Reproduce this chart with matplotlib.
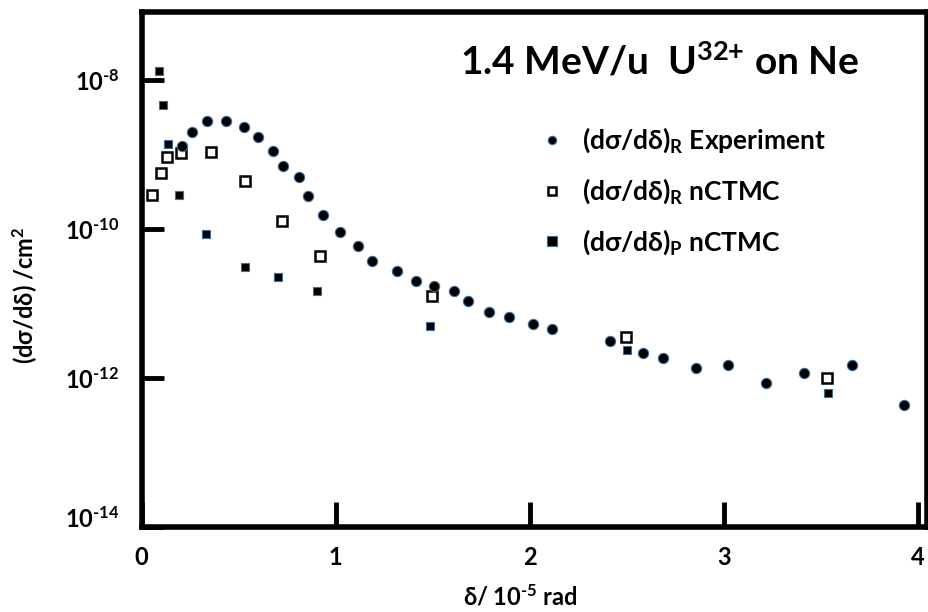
import numpy as np
import matplotlib
matplotlib.use('Agg')
import matplotlib.pyplot as plt
from matplotlib.lines import Line2D
from matplotlib.transforms import ScaledTranslation

plt.rcParams['font.family'] = ['Lato', 'DejaVu Sans']
plt.rcParams['font.weight'] = 'bold'
plt.rcParams['mathtext.fontset'] = 'custom'
plt.rcParams['mathtext.rm'] = 'Lato:bold'
plt.rcParams['mathtext.bf'] = 'Lato:bold'
plt.rcParams['mathtext.it'] = 'Lato:bold'

# experiment, (dsigma/ddelta)_R
exp_x = [0.206, 0.258, 0.338, 0.433, 0.527, 0.601, 0.675, 0.727, 0.809, 0.859,
         0.935, 1.022, 1.113, 1.189, 1.314, 1.412, 1.508, 1.611, 1.684, 1.792,
         1.895, 2.019, 2.116, 2.414, 2.582, 2.686, 2.857, 3.021, 3.218, 3.414,
         3.660, 3.929]
exp_y = [1.28e-9, 1.97e-9, 2.76e-9, 2.76e-9, 2.32e-9, 1.71e-9, 1.12e-9, 6.88e-10,
         4.96e-10, 2.73e-10, 1.52e-10, 9.1e-11, 5.82e-11, 3.66e-11, 2.75e-11,
         1.98e-11, 1.69e-11, 1.45e-11, 1.07e-11, 7.69e-12, 6.59e-12, 5.31e-12,
         4.55e-12, 3.10e-12, 2.17e-12, 1.82e-12, 1.34e-12, 1.47e-12, 8.59e-13,
         1.16e-12, 1.47e-12, 4.27e-13]

# nCTMC, recoil
ctmc_r_x = [0.052, 0.099, 0.132, 0.201, 0.356, 0.532, 0.725, 0.919, 1.498, 2.495, 3.534]
ctmc_r_y = [2.87e-10, 5.61e-10, 9.20e-10, 1.04e-9, 1.06e-9, 4.33e-10, 1.29e-10,
            4.37e-11, 1.24e-11, 3.52e-12, 1.00e-12]

# nCTMC, projectile
ctmc_p_x = [0.091, 0.108, 0.134, 0.192, 0.331, 0.532, 0.701, 0.905, 1.486, 2.500, 3.539]
ctmc_p_y = [1.32e-8, 4.62e-9, 1.39e-9, 2.87e-10, 8.55e-11, 3.05e-11, 2.27e-11,
            1.48e-11, 4.93e-12, 2.35e-12, 6.31e-13]

x_ticks = [0, 1, 2, 3, 4]
y_ticks = [1e-14, 1e-12, 1e-10, 1e-8]
y_ticklabels = [r'$10^{\text{-14}}$', r'$10^{\text{-12}}$', r'$10^{\text{-10}}$', r'$10^{\text{-8}}$']

W, H = 929, 612
fig = plt.figure(figsize=(W / 100, H / 100), dpi=100)
ax = fig.add_axes([141.7 / W, 1 - 526.7 / H, (926.7 - 141.7) / W, (526.7 - 12.3) / H])

edge = '#3d6e9e'
ax.plot(ctmc_p_x, ctmc_p_y, ls='none', marker='s', ms=6.3, mfc='black', mec=edge, mew=0.8)
ax.plot(ctmc_r_x, ctmc_r_y, ls='none', marker='s', ms=7.0, mfc='white', mec='black', mew=1.8)
ax.plot(exp_x, exp_y, ls='none', marker='o', ms=7.4, mfc='black', mec=edge, mew=0.8)

ax.set_yscale('log')
ax.set_xlim(0, (926.7 - 141.7) / 194)
ax.set_ylim(1e-14, 10 ** -7.093)

for s in ax.spines.values():
    s.set_linewidth(4)

ax.set_xticks(x_ticks)
ax.set_xticklabels([str(t) for t in x_ticks])
ax.set_yticks(y_ticks)
ax.set_yticklabels(y_ticklabels)
ax.yaxis.set_minor_locator(matplotlib.ticker.NullLocator())
ax.tick_params(axis='x', direction='in', length=18, width=3.5, pad=14, labelsize=17)
ax.tick_params(axis='y', direction='in', length=16, width=3.5, pad=16, labelsize=17)

# lowest y label sits a little above the bottom spine in the original
lbl = ax.get_yticklabels()[0]
lbl.set_transform(lbl.get_transform() + ScaledTranslation(0, 0.1, fig.dpi_scale_trans))

fig.text(520 / W, 1 - 597 / H, r'δ/ 10$^{\text{-5}}$ rad', ha='center', va='center', fontsize=17)
fig.text(25 / W, 1 - 295 / H, '(dσ/dδ) /cm$^{2}$', ha='center', va='center',
         rotation=90, fontsize=17)
fig.text(460 / W, 1 - 75 / H, r'1.4 MeV/u  U$^{\text{32+}}$ on Ne', ha='left', va='baseline',
         fontsize=28)

handles = [
    Line2D([], [], ls='none', marker='o', ms=6, mfc='black', mec=edge, mew=0.8),
    Line2D([], [], ls='none', marker='s', ms=5.5, mfc='white', mec='black', mew=1.8),
    Line2D([], [], ls='none', marker='s', ms=6.5, mfc='black', mec=edge, mew=0.8),
]
labels = ['(dσ/dδ)$_{R}$ Experiment', '(dσ/dδ)$_{R}$ nCTMC', '(dσ/dδ)$_{P}$ nCTMC']
fig.legend(handles, labels, loc='upper left', bbox_to_anchor=(539 / W, 1 - 126 / H),
           frameon=False, fontsize=19, handlelength=1.0, handletextpad=0.63,
           labelspacing=0.8, borderpad=0, borderaxespad=0)

fig.savefig('out.png', dpi=100)
